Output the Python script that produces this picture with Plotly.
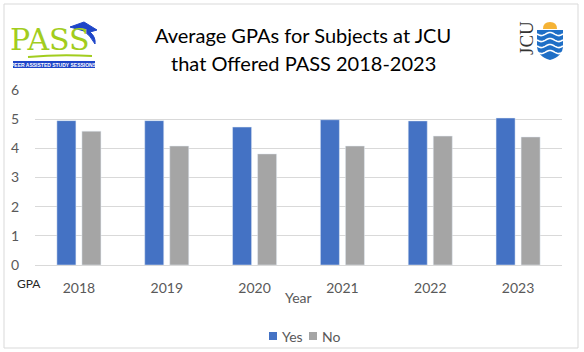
import numpy as np
import plotly.graph_objects as go

years = ["2018", "2019", "2020", "2021", "2022", "2023"]
yes_gpa = [4.95, 4.95, 4.73, 4.98, 4.94, 5.04]
no_gpa = [4.59, 4.08, 3.81, 4.08, 4.42, 4.39]
y_ticks = [0, 1, 2, 3, 4, 5, 6]
series_names = ["Yes", "No"]
series_colors = ["#4472C4", "#A5A5A5"]

W, H = 584, 352
ML, MR, MT, MB = 35, 22, 90, 87
PW, PH = W - ML - MR, H - MT - MB


def px(x):
    return (x - ML) / PW


def py(y):
    return (H - MB - y) / PH


FONT = "Lato, Carlito, 'Noto Sans', sans-serif"
GRAY = "#595959"

fig = go.Figure()
for name, vals, col in zip(series_names, [yes_gpa, no_gpa], series_colors):
    fig.add_trace(go.Bar(x=years, y=vals, name=name, marker_color=col, showlegend=False))

shapes = []
annotations = []
# outer border
shapes.append(dict(type="rect", xref="paper", yref="paper",
                   x0=px(4), x1=px(578), y0=py(348), y1=py(4),
                   line=dict(color="#D9D9D9", width=1), layer="below"))

# legend (manual, compact like the original)
leg_x = [269, 309]
for lx, name, col in zip(leg_x, series_names, series_colors):
    shapes.append(dict(type="rect", xref="paper", yref="paper",
                       x0=px(lx), x1=px(lx + 8), y0=py(340), y1=py(332),
                       fillcolor=col, line=dict(width=0)))
    annotations.append(dict(text=name, x=px(lx + 11), y=py(336), xref="paper", yref="paper",
                            showarrow=False, xanchor="left", yanchor="middle",
                            font=dict(family=FONT, size=14, color=GRAY)))

# PASS logo decorations
shapes.append(dict(type="rect", xref="paper", yref="paper",
                   x0=px(13), x1=px(95), y0=py(68), y1=py(61),
                   fillcolor="#1E45C8", line=dict(width=0)))
shapes.append(dict(type="path", xref="paper", yref="paper",
                   path=f"M {px(28)} {py(57)} Q {px(60)} {py(54)} {px(92)} {py(56)}",
                   line=dict(color="#A2CD1E", width=2)))
shapes.append(dict(type="path", xref="paper", yref="paper",
                   path=(f"M {px(70)} {py(27)} L {px(84)} {py(22)} L {px(97)} {py(30)} "
                         f"L {px(90)} {py(32)} Q {px(96)} {py(37)} {px(95)} {py(44)} "
                         f"Q {px(90)} {py(35)} {px(84)} {py(31)} Z"),
                   fillcolor="#1E45C8", line=dict(color="#1E45C8", width=1)))

# JCU shield
sx0, sx1, sy0, sy1 = 537, 563, 30, 60
cx = (sx0 + sx1) / 2
shield = (f"M {px(sx0)} {py(sy0)} L {px(sx1)} {py(sy0)} L {px(sx1)} {py(46)} "
          f"Q {px(sx1)} {py(56)} {px(cx)} {py(sy1)} "
          f"Q {px(sx0)} {py(56)} {px(sx0)} {py(46)} Z")
shapes.append(dict(type="path", xref="paper", yref="paper", path=shield,
                   fillcolor="#1F6FC6", line=dict(width=0)))
for wy in [34, 40, 46, 52]:
    xs = np.linspace(sx0, sx1, 14)
    ys = wy + 1.6 * np.sin((xs - sx0) / (sx1 - sx0) * 2 * np.pi * 1.5)
    pts = " L ".join(f"{px(a)} {py(b)}" for a, b in zip(xs, ys))
    shapes.append(dict(type="path", xref="paper", yref="paper", path="M " + pts,
                       line=dict(color="white", width=1.6)))
shapes.append(dict(type="path", xref="paper", yref="paper",
                   path=(f"M {px(543)} {py(29)} Q {px(543)} {py(22)} {px(550)} {py(22)} "
                         f"Q {px(557)} {py(22)} {px(557)} {py(29)} Z"),
                   fillcolor="#F5B335", line=dict(width=0)))

annotations += [
    dict(text="Average GPAs for Subjects at JCU", x=px(303), y=py(35),
         xref="paper", yref="paper", showarrow=False,
         font=dict(family=FONT, size=20, color="black"), xanchor="center", yanchor="middle"),
    dict(text="that Offered PASS 2018-2023", x=px(303), y=py(63),
         xref="paper", yref="paper", showarrow=False,
         font=dict(family=FONT, size=20, color="black"), xanchor="center", yanchor="middle"),
    dict(text="GPA", x=px(15), y=py(283), xref="paper", yref="paper", showarrow=False,
         font=dict(family=FONT, size=12, color="#262626"), xanchor="left", yanchor="middle"),
    dict(text="Year", x=px(298), y=py(297), xref="paper", yref="paper", showarrow=False,
         font=dict(family=FONT, size=14, color=GRAY), xanchor="center", yanchor="middle"),
    dict(text="PASS", x=px(50), y=py(40), xref="paper", yref="paper", showarrow=False,
         font=dict(family="'DejaVu Serif', serif", size=30, color="#A2CD1E"),
         xanchor="center", yanchor="middle"),
    dict(text="<b>PEER ASSISTED STUDY SESSIONS</b>", x=px(54), y=py(64.5), xref="paper",
         yref="paper", showarrow=False,
         font=dict(family="'Liberation Sans Narrow', 'Liberation Sans', sans-serif", size=5,
                   color="white"), xanchor="center", yanchor="middle"),
    dict(text="JCU", x=px(526), y=py(38), xref="paper", yref="paper", showarrow=False,
         textangle=-90, font=dict(family="'Liberation Serif', serif", size=19, color="#333333"),
         xanchor="center", yanchor="middle"),
]

fig.update_layout(
    width=W, height=H,
    margin=dict(l=ML, r=MR, t=MT, b=MB, pad=0, autoexpand=False),
    paper_bgcolor="white", plot_bgcolor="white",
    barmode="group", bargap=0.43, bargroupgap=0.24,
    font=dict(family=FONT, color=GRAY, size=13),
    showlegend=False,
    xaxis=dict(tickvals=years, showgrid=False, showline=True, linecolor="#D9D9D9",
               ticks="outside", ticklen=10, tickcolor="rgba(0,0,0,0)",
               tickfont=dict(family=FONT, size=14, color=GRAY), fixedrange=True),
    yaxis=dict(range=[0, 6], tickvals=y_ticks, showgrid=True, gridcolor="#D9D9D9",
               zeroline=False, showline=False, ticks="outside", ticklen=12,
               tickcolor="rgba(0,0,0,0)", tickfont=dict(family=FONT, size=14, color=GRAY),
               fixedrange=True),
    shapes=shapes,
    annotations=annotations,
)

fig.write_html("out.html")
